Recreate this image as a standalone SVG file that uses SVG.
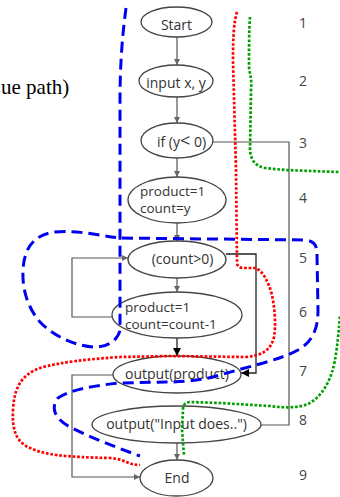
<svg xmlns="http://www.w3.org/2000/svg" width="340" height="497" viewBox="0 0 340 497">
<defs>
<style>
.n ellipse{fill:#fff;stroke:#444;stroke-width:1.3}
.n text{font-family:"Open Sans","Noto Sans",sans-serif;font-size:14px;fill:#333}
.n text.two{font-size:13.5px}
.c{fill:none;stroke:#555;stroke-width:1.2}
.k{fill:none;stroke:#222;stroke-width:1.3}
.num{font-family:"Open Sans","Noto Sans",sans-serif;font-size:14px;fill:#444;text-anchor:middle}
.blue{fill:none;stroke:#0000f0;stroke-width:3;stroke-dasharray:11 6}
.red{fill:none;stroke:#f00;stroke-width:2.7;stroke-dasharray:2.7 1.8}
.green{fill:none;stroke:#00a000;stroke-width:2.7;stroke-dasharray:2.7 1.8}
</style>
<marker id="ag" viewBox="0 0 10 10" refX="10" refY="5" markerWidth="6" markerHeight="6" markerUnits="userSpaceOnUse" orient="auto"><path d="M0,0 L10,5 L0,10 z" fill="#666"/></marker>
<marker id="ak" viewBox="0 0 10 10" refX="10" refY="5" markerWidth="8" markerHeight="8" markerUnits="userSpaceOnUse" orient="auto"><path d="M0,0 L10,5 L0,10 z" fill="#000"/></marker>
</defs>
<rect width="340" height="497" fill="#fff"/>
<text x="1" y="94" font-family="Liberation Serif, serif" font-size="21" fill="#000">ue path)</text>
<g id="connectors">
<path class="c" d="M177,37 V65" marker-end="url(#ag)"/>
<path class="c" d="M177,97 V123" marker-end="url(#ag)"/>
<path class="c" d="M177,158 V177" marker-end="url(#ag)"/>
<path class="c" d="M177,223 V241" marker-end="url(#ag)"/>
<path class="c" d="M177,278 V292" marker-end="url(#ag)"/>
<path class="k" d="M177,338 V356" marker-end="url(#ak)"/>
<path class="c" d="M177,443 V460" marker-end="url(#ag)"/>
<path class="c" d="M213,142 H289 V425 H261"/>
<path class="k" d="M226,254 H256 V373 H241" marker-end="url(#ak)"/>
<path class="c" d="M112,317 H72 V258 H128" marker-end="url(#ag)"/>
<path class="c" d="M113,375 H72 V477 H140" marker-end="url(#ag)"/>
</g>
<g id="n1" class="n"><ellipse cx="176.5" cy="22" rx="35.5" ry="15"/><text x="176.5" y="30" text-anchor="middle">Start</text></g>
<g id="n2" class="n"><ellipse cx="176" cy="81" rx="37" ry="16"/><text x="176" y="88" text-anchor="middle">input x, y</text></g>
<g id="n3" class="n"><ellipse cx="177" cy="140.5" rx="36" ry="17.5"/><text x="181.5" y="147" text-anchor="middle">if (y<tspan font-size="18">&lt;</tspan> 0)</text></g>
<g id="n4" class="n"><ellipse cx="177" cy="200" rx="49" ry="23"/><text class="two"><tspan x="140" y="196">product=1</tspan><tspan x="140" dy="16.5">count=y</tspan></text></g>
<g id="n5" class="n"><ellipse cx="177" cy="259.5" rx="49" ry="18.5"/><text x="182.5" y="264" text-anchor="middle">(count&gt;0)</text></g>
<g id="n6" class="n"><ellipse cx="177" cy="315" rx="65" ry="23"/><text class="two"><tspan x="125" y="312">product=1</tspan><tspan x="125" dy="16.5">count=count-1</tspan></text></g>
<g id="n7" class="n"><ellipse cx="177" cy="374.5" rx="64" ry="18.5"/><text x="177" y="379" text-anchor="middle">output(product)</text></g>
<g id="n8" class="n"><ellipse cx="176.5" cy="424.5" rx="84.5" ry="18.5"/><text x="176.5" y="429" text-anchor="middle">output("Input does..")</text></g>
<g id="n9" class="n"><ellipse cx="176.5" cy="478" rx="36.5" ry="18"/><text x="177" y="483" text-anchor="middle">End</text></g>
<g id="numbers">
<text class="num" x="303" y="28">1</text>
<text class="num" x="303" y="86">2</text>
<text class="num" x="303" y="148">3</text>
<text class="num" x="303" y="203">4</text>
<text class="num" x="303" y="263">5</text>
<text class="num" x="303" y="317">6</text>
<text class="num" x="303" y="376">7</text>
<text class="num" x="303" y="425">8</text>
<text class="num" x="303" y="480">9</text>
</g>
<g id="paths">
<path class="blue" d="M126,8 C123,30 120,60 120,100 L120,330 C118,340 108,347 95,347 C80,347 55,338 40,322 C28,308 22,290 23,270 C24,250 32,235 55,232 C80,230 100,236 120,238 L305,240 C315,241 317,246 317,255 L318,310 C318,330 312,342 298,350 C280,360 250,366 220,375 C200,381 180,382 165,382 L120,383 C90,386 70,390 58,398 C50,408 55,420 72,428 C90,437 115,447 140,456"/>
<path class="red" d="M237,12 C234,22 233,35 233,60 L236,170 L237,262 C237,267 240,268 245,268 L255,268 C262,270 268,280 272,295 C275,310 276,325 274,337 C271,350 262,356 245,357 L170,356 L120,357 C90,359 60,362 40,368 C20,375 14,390 13,410 C12,430 16,442 30,448 C45,455 65,457 110,458 C125,459 128,465 140,465"/>
<path class="green" d="M250,17 C249,30 249,50 249,67 C250,75 252,80 251,90 L250,150 C251,160 255,166 265,168 L285,170 L338,172 L360,175 L360,300 L340,316 C338,340 336,360 332,372 C328,385 320,398 308,404 C298,408 285,408 270,406 L220,403 L190,402 C185,402 183,405 183,410 L182,430 L184,455"/>
</g>
</svg>
